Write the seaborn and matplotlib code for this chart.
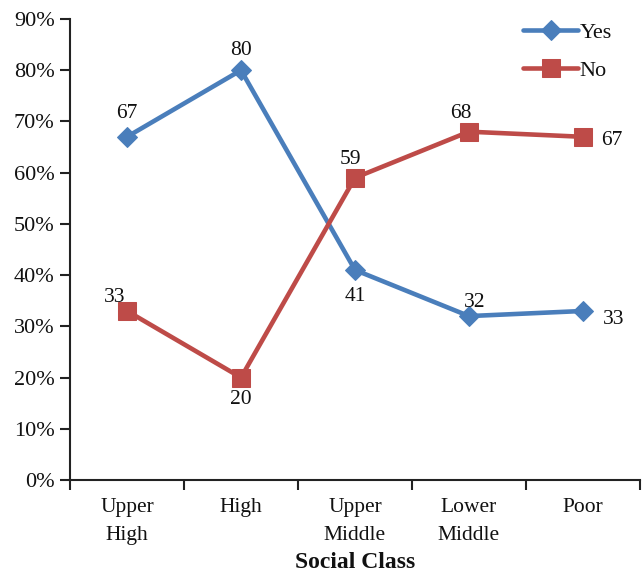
import matplotlib
matplotlib.use("Agg")
import matplotlib.pyplot as plt
import seaborn as sns
import pandas as pd
import numpy as np

categories = ["Upper\nHigh", "High", "Upper\nMiddle", "Lower\nMiddle", "Poor"]
yes_values = [67, 80, 41, 32, 33]
no_values = [33, 20, 59, 68, 67]
y_ticks = [0, 10, 20, 30, 40, 50, 60, 70, 80, 90]

sns.set_theme(style="white")
plt.rcParams["font.family"] = ["Liberation Serif", "DejaVu Serif"]

df = pd.DataFrame({
    "pos": list(range(len(categories))) * 2,
    "value": yes_values + no_values,
    "answer": ["Yes"] * len(categories) + ["No"] * len(categories),
})

blue = "#4a7ebb"
red = "#be4b48"
ink = "#111111"

fig = plt.figure(figsize=(6.42, 5.75), dpi=100)
ax = fig.add_axes([70 / 642, 1 - 480 / 575, 570 / 642, 461 / 575])

sns.lineplot(data=df[df.answer == "Yes"], x="pos", y="value", ax=ax, color=blue,
             linewidth=3.3, marker="D", markersize=10, markeredgecolor=blue,
             label="Yes")
sns.lineplot(data=df[df.answer == "No"], x="pos", y="value", ax=ax, color=red,
             linewidth=3.3, marker="s", markersize=13, markeredgecolor=red,
             label="No")

# value labels
yes_off = [(0, 17), (0, 14), (0, -19), (4, 10), (22, -6)]
no_off = [(-9, 10), (0, -16), (-3, 13), (-6, 13), (21, -3)]
for i, v in enumerate(yes_values):
    dx, dy = yes_off[i]
    ax.annotate(str(v), (i, v), xytext=(dx, dy), textcoords="offset points",
                ha="center", va="center", fontsize=15.5, color=ink)
for i, v in enumerate(no_values):
    dx, dy = no_off[i]
    ax.annotate(str(v), (i, v), xytext=(dx, dy), textcoords="offset points",
                ha="center", va="center", fontsize=15.5, color=ink)

ax.set_xlim(-0.5, len(categories) - 0.5)
ax.set_ylim(0, 90)
ax.set_yticks(y_ticks)
ax.set_yticklabels([f"{t}%" for t in y_ticks], fontsize=16, color=ink)

# category boundaries as major ticks, names centred as minor ticks
ax.set_xticks(np.arange(-0.5, len(categories), 1.0))
ax.set_xticklabels([])
ax.set_xticks(range(len(categories)), minor=True)
ax.set_xticklabels(categories, minor=True, fontsize=15.5, linespacing=1.65,
                   color=ink)
ax.tick_params(axis="x", which="major", direction="out", length=7, width=1.5,
               color="#222222", bottom=True)
ax.tick_params(axis="x", which="minor", length=0, pad=13)
ax.tick_params(axis="y", direction="out", length=7, width=1.5, color="#222222",
               left=True, pad=4)

ax.set_xlabel("Social Class", fontsize=17, fontweight="bold", labelpad=5,
              color=ink)
ax.set_ylabel("")

for side in ["top", "right"]:
    ax.spines[side].set_visible(False)
for side in ["left", "bottom"]:
    ax.spines[side].set_color("#222222")
    ax.spines[side].set_linewidth(1.5)

leg = ax.legend(loc="upper left", bbox_to_anchor=(444 / 570, 1.012), frameon=False,
                fontsize=16, handlelength=2.5, handletextpad=0.05,
                labelspacing=0.78, borderaxespad=0.0)
for t in leg.get_texts():
    t.set_color(ink)

fig.savefig("out.png", dpi=100)
